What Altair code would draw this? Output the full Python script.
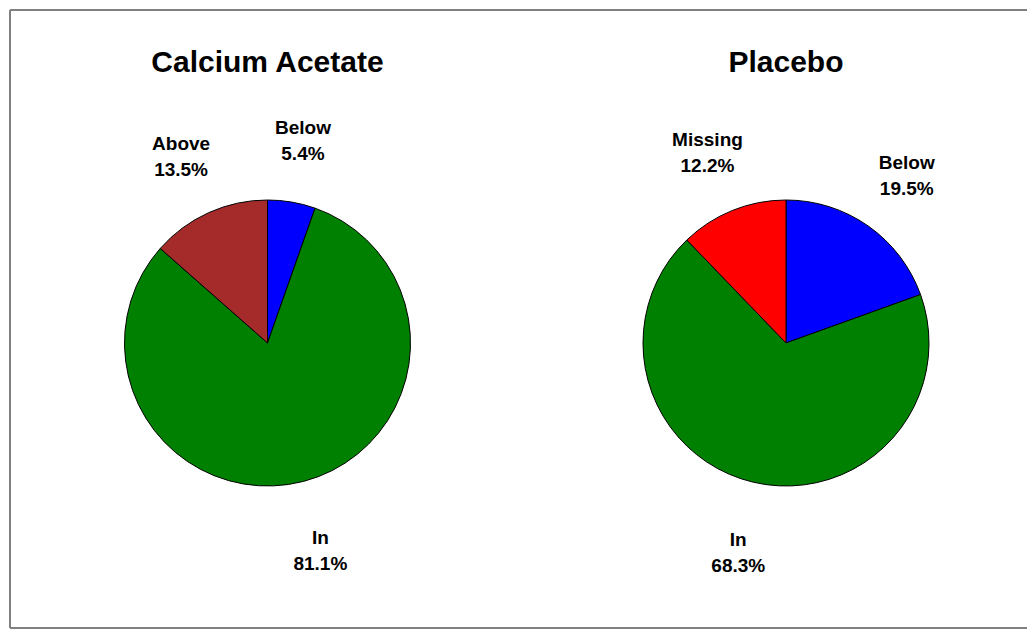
import altair as alt
import pandas as pd

# ---- data ----
groups = ["Calcium Acetate", "Placebo"]
ca_categories = ["Below", "In", "Above"]
ca_values = [5.4, 81.1, 13.5]
pl_categories = ["Below", "In", "Missing"]
pl_values = [19.5, 68.3, 12.2]

color_domain = ["Below", "In", "Above", "Missing"]
color_range = ["#0000FF", "#008000", "#A52A2A", "#FF0000"]

FONT = "Liberation Sans"
PAD = 2
W, H = 1015, 618
R = 143
LABEL_R = 210
LINE_H = 26
FRAME = "#808080"


def make_df(group, cats, vals):
    return pd.DataFrame({
        "group": group,
        "cat": cats,
        "value": vals,
        "idx": list(range(len(cats))),
        "label": [f"{c}\n{v:.1f}%" for c, v in zip(cats, vals)],
    })


def pie(group, cats, vals, cx, cy, title_y):
    df = make_df(group, cats, vals)
    base = alt.Chart(df)
    arcs = base.mark_arc(outerRadius=R, stroke="black", strokeWidth=1).encode(
        x=alt.value(cx),
        y=alt.value(cy),
        theta=alt.Theta("value:Q", stack=True),
        order=alt.Order("idx:Q"),
        color=alt.Color("cat:N", scale=alt.Scale(domain=color_domain, range=color_range), legend=None),
    )
    labels = base.mark_text(
        radius=LABEL_R, font=FONT, fontSize=19, fontWeight="bold", color="black",
        lineBreak="\n", lineHeight=LINE_H, align="center", baseline="middle",
        dy=-8,
    ).encode(
        x=alt.value(cx),
        y=alt.value(cy),
        theta=alt.Theta("value:Q", stack=True),
        order=alt.Order("idx:Q"),
        text="label:N",
    )
    title = alt.Chart(pd.DataFrame({"t": [group]})).mark_text(
        font=FONT, fontSize=30, fontWeight="bold", color="black",
        align="center", baseline="alphabetic",
    ).encode(x=alt.value(cx), y=alt.value(title_y), text="t:N")
    return [arcs, labels, title]


# frame: top, left and bottom edges (right edge runs off the page in the original)
one = pd.DataFrame({"k": [0]})
frame_top = alt.Chart(one).mark_rule(color=FRAME, strokeWidth=2).encode(
    x=alt.value(0), x2=alt.value(W + PAD), y=alt.value(0))
frame_bottom = alt.Chart(one).mark_rule(color=FRAME, strokeWidth=2).encode(
    x=alt.value(0), x2=alt.value(W + PAD), y=alt.value(H))
frame_left = alt.Chart(one).mark_rule(color=FRAME, strokeWidth=2).encode(
    x=alt.value(0), y=alt.value(0), y2=alt.value(H))

OFF = 8 + PAD  # page offset of the view origin
layers = (
    [frame_top, frame_bottom, frame_left]
    + pie(groups[0], ca_categories, ca_values, 267.5 - OFF, 343 - OFF, 72 - OFF)
    + pie(groups[1], pl_categories, pl_values, 786 - OFF, 343 - OFF, 72 - OFF)
)

chart = alt.layer(*layers).properties(
    width=W, height=H, padding=PAD, background="white",
    autosize=alt.AutoSizeParams(type="none"),
).configure_view(strokeWidth=0)

chart.save("out.html", embed_options={"renderer": "svg", "actions": False})
